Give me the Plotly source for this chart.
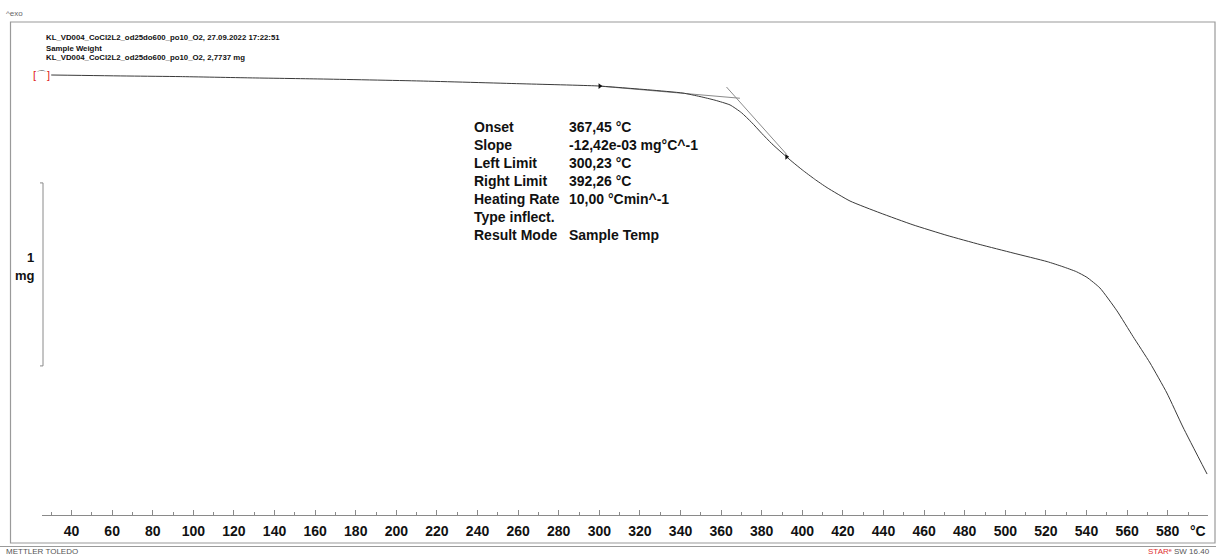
import numpy as np
import plotly.graph_objects as go

# TGA curve: sample temperature (°C) and mass (mg)
temp_c = [30.0, 68.8, 93.5, 127.9, 162.4, 211.7, 260.9, 298.9, 310.2, 325.0,
          341.2, 349.6, 357.0, 364.4, 370.0, 375.0, 380.0, 385.0, 390.0, 395.0,
          400.0, 406.0, 412.2, 423.5, 438.3, 454.5, 471.3, 487.6, 503.8, 520.6,
          528.4, 535.0, 540.2, 546.6, 555.0, 562.9, 571.3, 579.6, 587.5, 599.4]
mass_mg = [2.7737, 2.768, 2.765, 2.758, 2.752, 2.741, 2.726, 2.714, 2.705, 2.692,
           2.675, 2.656, 2.636, 2.610, 2.568, 2.515, 2.455, 2.398, 2.348, 2.300,
           2.255, 2.205, 2.158, 2.085, 2.020, 1.955, 1.897, 1.847, 1.801, 1.754,
           1.726, 1.699, 1.668, 1.610, 1.485, 1.345, 1.200, 1.036, 0.850, 0.593]

# evaluation results
onset_c = 367.45
slope_mg_per_c = -12.42e-03
left_limit_c = 300.23
right_limit_c = 392.26
baseline_slope = -9.6e-04  # estimated from the drawn baseline tangent

tick_vals = list(range(40, 600, 20))
tick_text = [str(v) for v in tick_vals]

result_labels = ["Onset", "Slope", "Left Limit", "Right Limit",
                 "Heating Rate", "Type inflect.", "Result Mode"]
result_values = ["367,45 °C", "-12,42e-03 mg°C^-1", "300,23 °C", "392,26 °C",
                 "10,00 °Cmin^-1", "", "Sample Temp"]

header_lines = ["KL_VD004_CoCl2L2_od25do600_po10_O2, 27.09.2022 17:22:51",
                "Sample Weight",
                "KL_VD004_CoCl2L2_od25do600_po10_O2, 2,7737 mg"]

W, H = 1216, 557


def px(x):
    return x / W


def py(y):
    return 1 - y / H


FONT = "Liberation Sans, Arial, sans-serif"

# tangents
m_left = float(np.interp(left_limit_c, temp_c, mass_mg))
m_onset = m_left + baseline_slope * (onset_c - left_limit_c)
base_T = [left_limit_c, onset_c + 1.8]
base_m = [m_left + baseline_slope * (t - left_limit_c) for t in base_T]
infl_T = [onset_c - 4.8, right_limit_c]
infl_m = [m_onset + slope_mg_per_c * (t - onset_c) for t in infl_T]

fig = go.Figure()

fig.add_trace(go.Scatter(
    x=base_T, y=base_m, mode="lines",
    line=dict(color="#8a8a8a", width=1), hoverinfo="skip"
))
fig.add_trace(go.Scatter(
    x=infl_T, y=infl_m, mode="lines",
    line=dict(color="#8a8a8a", width=1), hoverinfo="skip"
))
fig.add_trace(go.Scatter(
    x=temp_c, y=mass_mg, mode="lines",
    line=dict(color="#3a3a3a", width=1, shape="spline", smoothing=0.5),
    hoverinfo="skip"
))
lim_T = [left_limit_c, right_limit_c]
lim_m = [float(np.interp(t, temp_c, mass_mg)) for t in lim_T]
fig.add_trace(go.Scatter(
    x=lim_T, y=lim_m, mode="markers",
    marker=dict(symbol="triangle-right", size=5, color="#111"),
    hoverinfo="skip"
))

annotations = []

# header
annotations.append(dict(x=px(4), y=py(13), xref="paper", yref="paper",
                        text="^exo", showarrow=False, xanchor="left", yanchor="middle",
                        font=dict(family=FONT, size=8, color="#666")))
for i, line in enumerate(header_lines):
    annotations.append(dict(x=px(44), y=py(38 + 10 * i), xref="paper", yref="paper",
                            text="<b>" + line + "</b>", showarrow=False,
                            xanchor="left", yanchor="middle",
                            font=dict(family=FONT, size=7.8, color="#111")))

# results block
for i, (lab, val) in enumerate(zip(result_labels, result_values)):
    yy = py(127 + 18 * i)
    annotations.append(dict(x=px(472), y=yy, xref="paper", yref="paper",
                            text="<b>" + lab + "</b>", showarrow=False,
                            xanchor="left", yanchor="middle",
                            font=dict(family=FONT, size=14, color="#111")))
    if val:
        annotations.append(dict(x=px(567), y=yy, xref="paper", yref="paper",
                                text="<b>" + val + "</b>", showarrow=False,
                                xanchor="left", yanchor="middle",
                                font=dict(family=FONT, size=14, color="#111")))

# scale bar label
annotations.append(dict(x=px(36), y=py(257), xref="paper", yref="paper",
                        text="<b>1</b>", showarrow=False, xanchor="right", yanchor="middle",
                        font=dict(family=FONT, size=13, color="#111")))
annotations.append(dict(x=px(37), y=py(276), xref="paper", yref="paper",
                        text="<b>mg</b>", showarrow=False, xanchor="right", yanchor="middle",
                        font=dict(family=FONT, size=13, color="#111")))

# unit at axis end
annotations.append(dict(x=px(1208), y=py(531), xref="paper", yref="paper",
                        text="<b>°C</b>", showarrow=False, xanchor="right", yanchor="middle",
                        font=dict(family=FONT, size=14, color="#111")))

# curve start marker
annotations.append(dict(x=temp_c[0] + 0.5, y=mass_mg[0], xref="x", yref="y",
                        text='<span style="color:#e02020">[</span>⌒<span style="color:#e02020">]</span>',
                        showarrow=False, xanchor="right", yanchor="middle",
                        font=dict(family=FONT, size=11, color="#666")))

# footer
annotations.append(dict(x=px(4), y=py(551), xref="paper", yref="paper",
                        text="METTLER TOLEDO", showarrow=False, xanchor="left", yanchor="middle",
                        font=dict(family=FONT, size=8, color="#555")))
annotations.append(dict(x=px(1212), y=py(551), xref="paper", yref="paper",
                        text='<span style="color:#e03030">STAR</span><span style="color:#e03030">ᵉ</span> SW 16.40',
                        showarrow=False, xanchor="right", yanchor="middle",
                        font=dict(family=FONT, size=8, color="#555")))

# scale bar: 1 mg in data units
scale_top = 2.184
scale_bot = scale_top - 1.0
shapes = [
    dict(type="rect", xref="paper", yref="paper", x0=px(10.5), x1=px(1215), y0=py(543), y1=py(22),
         line=dict(color="#9a9a9a", width=1.2)),
    dict(type="line", xref="paper", yref="paper", x0=px(0), x1=px(1216), y0=py(546.5), y1=py(546.5),
         line=dict(color="#9a9a9a", width=1)),
    dict(type="line", xref="paper", yref="y", x0=px(43), x1=px(43), y0=scale_bot, y1=scale_top,
         line=dict(color="#8a8a8a", width=1)),
    dict(type="line", xref="paper", yref="y", x0=px(40), x1=px(43), y0=scale_top, y1=scale_top,
         line=dict(color="#8a8a8a", width=1)),
    dict(type="line", xref="paper", yref="y", x0=px(40), x1=px(43), y0=scale_bot, y1=scale_bot,
         line=dict(color="#8a8a8a", width=1)),
]

fig.update_layout(
    width=W, height=H,
    margin=dict(l=0, r=0, t=0, b=0),
    paper_bgcolor="white", plot_bgcolor="white",
    showlegend=False,
    xaxis=dict(
        domain=[px(42.1), px(1208.3)],
        range=[25.5, 600],
        showgrid=False, zeroline=False,
        showline=True, linecolor="#8a8a8a", linewidth=1.2,
        ticks="inside", ticklen=5, tickcolor="#8a8a8a", tickwidth=1,
        tickvals=tick_vals + [600], ticktext=tick_text + [""],
        tickfont=dict(family=FONT, size=14, color="#111", weight="bold"),
        ticklabelstandoff=3,
        minor=dict(dtick=10, tick0=0, ticks="inside", ticklen=3, tickcolor="#8a8a8a"),
    ),
    yaxis=dict(
        domain=[py(515), py(22)],
        range=[0.3693, 3.0633],
        visible=False,
    ),
    annotations=annotations,
    shapes=shapes,
)

fig.write_html("out.html", config={"displayModeBar": False},
               post_script="document.body.style.margin='0';document.body.style.overflow='hidden';")
